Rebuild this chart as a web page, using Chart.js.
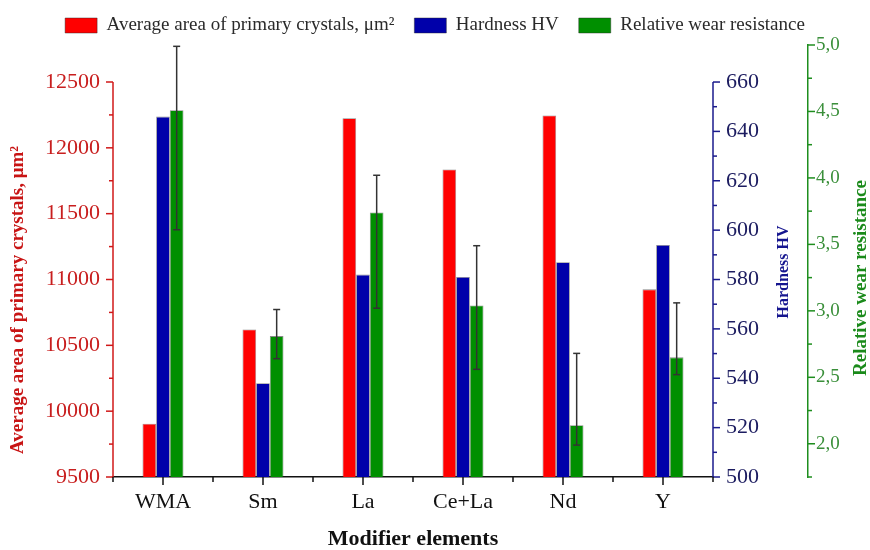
<!DOCTYPE html>
<html>
<head>
<meta charset="utf-8">
<script src="https://cdn.jsdelivr.net/npm/chart.js@4"></script>
<style>
  html, body { margin: 0; padding: 0; background: #ffffff; }
  canvas { display: block; }
</style>
</head>
<body>
<canvas id="chart" width="870" height="550"></canvas>
<script>
// Modifier elements and the three measured properties
const categories = ['WMA', 'Sm', 'La', 'Ce+La', 'Nd', 'Y'];
const crystalArea = [9905, 10620, 12225, 11835, 12245, 10925];   // µm²
const hardnessHV = [646, 538, 582, 581, 587, 594];
const wearResistance = [4.51, 2.81, 3.74, 3.04, 2.14, 2.65];
const wearLower = [3.61, 2.64, 3.02, 2.56, 1.99, 2.52];
const wearUpper = [4.99, 3.01, 4.02, 3.49, 2.68, 3.06];

// Labelled ticks of each value axis
const areaTicks = [9500, 10000, 10500, 11000, 11500, 12000, 12500];
const hardnessTicks = [500, 520, 540, 560, 580, 600, 620, 640, 660];
const wearTicks = [2.0, 2.5, 3.0, 3.5, 4.0, 4.5, 5.0];

const FONT = '"Liberation Serif", "Times New Roman", serif';
const COLORS = {
  yArea: { axis: '#d01818', label: '#c81e1e', title: '#c81414' },
  yHard: { axis: '#1a1a8c', label: '#1c1c60', title: '#15158f' },
  yWear: { axis: '#1e8e1e', label: '#3a8f3a', title: '#1a8a1a' }
};

// labelled ticks plus unlabelled ones halfway between them (and at the axis minimum)
function withMinorTicks(majors, min) {
  const out = [];
  if (min < majors[0]) out.push({ value: min, isMajor: false });
  majors.forEach((v, i) => {
    out.push({ value: v, isMajor: true });
    if (i < majors.length - 1) out.push({ value: (v + majors[i + 1]) / 2, isMajor: false });
  });
  return out;
}

function valueAxis(id, position, min, max, majors, fmt, fontSize, padding, width) {
  return {
    type: 'linear',
    position: position,
    min: min,
    max: max,
    grid: { display: false, drawTicks: false },
    border: { display: id === 'yWear', color: COLORS[id].axis, width: 1.5 },
    afterBuildTicks: (scale) => { scale.ticks = withMinorTicks(majors, min); },
    afterFit: (scale) => { scale.width = width; },
    ticks: {
      autoSkip: false,
      padding: padding,
      color: COLORS[id].label,
      font: { family: FONT, size: fontSize },
      callback: function (value, index, ticks) {
        return ticks[index].isMajor ? fmt(value) : '';
      }
    }
  };
}

function line(ctx, x1, y1, x2, y2) {
  ctx.beginPath();
  ctx.moveTo(x1, y1);
  ctx.lineTo(x2, y2);
  ctx.stroke();
}

// Axis lines and tick marks (long for labelled ticks, short for the others)
const axisMarks = {
  id: 'axisMarks',
  afterDraw(chart) {
    const { ctx, chartArea, scales } = chart;
    ctx.save();
    ctx.lineWidth = 1.5;
    [['yArea', -1], ['yHard', 1], ['yWear', 1]].forEach(([id, dir]) => {
      const s = scales[id];
      const x0 = dir < 0 ? s.right : s.left;
      ctx.strokeStyle = COLORS[id].axis;
      const majors = s.ticks.filter(t => t.isMajor);
      if (id !== 'yWear') {
        const top = s.getPixelForValue(majors[majors.length - 1].value);
        line(ctx, x0, top, x0, chartArea.bottom);
      }
      s.ticks.forEach(t => {
        const y = s.getPixelForValue(t.value);
        line(ctx, x0, y, x0 + dir * (t.isMajor ? 7 : 4), y);
      });
    });
    const xs = scales.x;
    ctx.strokeStyle = '#111111';
    categories.forEach((c, i) => {
      const px = xs.getPixelForValue(i);
      line(ctx, px, chartArea.bottom, px, chartArea.bottom + 8);
    });
    for (let i = 0; i <= categories.length; i++) {
      const px = xs.getPixelForValue(i - 0.5);
      line(ctx, px, chartArea.bottom, px, chartArea.bottom + 5);
    }
    ctx.restore();
  }
};

// Spread of the wear resistance measurements
const wearErrorBars = {
  id: 'wearErrorBars',
  afterDatasetsDraw(chart) {
    const { ctx } = chart;
    const ys = chart.scales.yWear;
    const meta = chart.getDatasetMeta(2);
    ctx.save();
    ctx.strokeStyle = '#333333';
    ctx.lineWidth = 1.5;
    meta.data.forEach((bar, i) => {
      const yTop = ys.getPixelForValue(wearUpper[i]);
      const yBot = ys.getPixelForValue(wearLower[i]);
      line(ctx, bar.x, yTop, bar.x, yBot);
      line(ctx, bar.x - 3.5, yTop, bar.x + 3.5, yTop);
      line(ctx, bar.x - 3.5, yBot, bar.x + 3.5, yBot);
    });
    ctx.restore();
  }
};

// Rotated titles of the three value axes
const axisTitles = {
  id: 'axisTitles',
  afterDraw(chart) {
    const { ctx, chartArea, scales } = chart;
    const items = [
      { text: 'Average area of primary crystals, μm²', x: scales.yArea.left + 18, y: chartArea.top + 255, size: 19, c: COLORS.yArea.title },
      { text: 'Hardness HV', x: scales.yHard.right - 24, y: chartArea.top + 227, size: 16, c: COLORS.yHard.title },
      { text: 'Relative wear resistance', x: scales.yWear.right - 9, y: chartArea.top + 233, size: 19, c: COLORS.yWear.title }
    ];
    ctx.save();
    items.forEach(t => {
      ctx.save();
      ctx.translate(t.x, t.y);
      ctx.rotate(-Math.PI / 2);
      ctx.font = 'bold ' + t.size + 'px ' + FONT;
      ctx.fillStyle = t.c;
      ctx.textAlign = 'center';
      ctx.textBaseline = 'middle';
      ctx.fillText(t.text, 0, 0);
      ctx.restore();
    });
    ctx.restore();
  }
};

const barStyle = { borderWidth: 0.8, borderColor: 'rgba(40,40,40,0.55)', categoryPercentage: 0.41, barPercentage: 1.0 };

new Chart(document.getElementById('chart'), {
  type: 'bar',
  data: {
    labels: categories,
    datasets: [
      Object.assign({ label: 'Average area of primary crystals, μm²', data: crystalArea, backgroundColor: '#ff0000', yAxisID: 'yArea' }, barStyle),
      Object.assign({ label: 'Hardness HV', data: hardnessHV, backgroundColor: '#0000aa', yAxisID: 'yHard' }, barStyle),
      Object.assign({ label: 'Relative wear resistance', data: wearResistance, backgroundColor: '#008f00', yAxisID: 'yWear' }, barStyle)
    ]
  },
  options: {
    responsive: false,
    animation: false,
    layout: { padding: { top: -4, left: 0, right: 0, bottom: 0 } },
    plugins: {
      legend: {
        position: 'top',
        labels: {
          boxWidth: 32,
          boxHeight: 15,
          padding: 20,
          color: '#2a2a2a',
          font: { family: FONT, size: 19 }
        }
      },
      tooltip: { enabled: false }
    },
    scales: {
      x: {
        type: 'category',
        offset: true,
        grid: { display: false, drawTicks: false },
        border: { display: true, color: '#111111', width: 1.5 },
        afterFit: (scale) => { scale.height = 73; },
        ticks: { padding: 12, color: '#111111', font: { family: FONT, size: 22 } },
        title: {
          display: true,
          text: 'Modifier elements',
          color: '#111111',
          font: { family: FONT, size: 22, weight: 'bold' },
          padding: { top: 0, bottom: -3 }
        }
      },
      yArea: valueAxis('yArea', 'left', 9500, 12781, areaTicks, v => String(v), 22, 13, 113),
      yHard: valueAxis('yHard', 'right', 500, 675, hardnessTicks, v => String(v), 22, 13, 95),
      yWear: valueAxis('yWear', 'right', 1.75, 5.0, wearTicks, v => v.toFixed(1).replace('.', ','), 19, 8, 62)
    }
  },
  plugins: [wearErrorBars, axisMarks, axisTitles]
});
</script>
</body>
</html>
